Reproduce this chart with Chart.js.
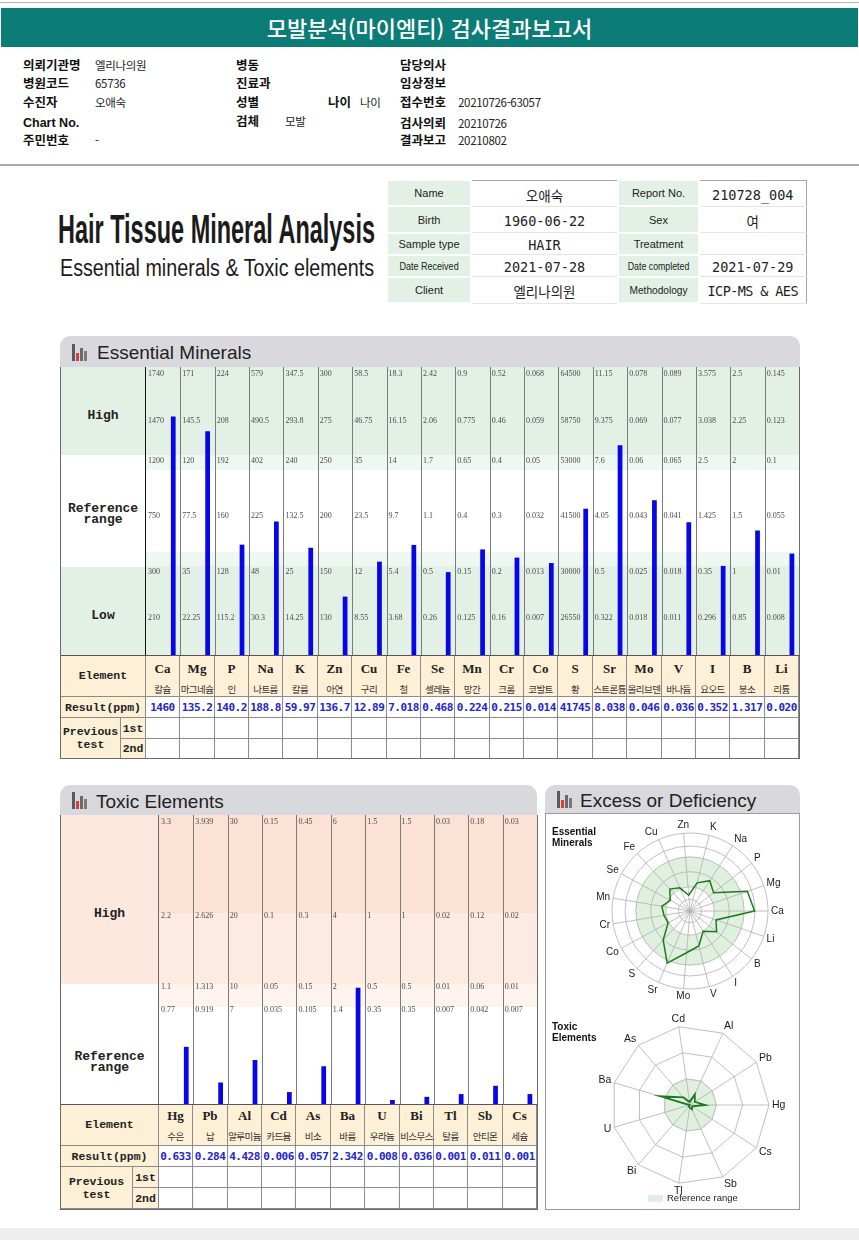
<!DOCTYPE html>
<html lang="ko"><head><meta charset="utf-8">
<script src="https://cdn.jsdelivr.net/npm/chart.js@4.4.1/dist/chart.umd.min.js"></script>
<style>
html,body{margin:0;padding:0;}
body{width:859px;height:1240px;position:relative;overflow:hidden;background:#fff;font-family:"Liberation Sans",Arial,sans-serif;color:#111;}
.a{position:absolute;}
.lab{position:absolute;font-family:"Noto Sans CJK KR",sans-serif;font-weight:700;font-size:12.5px;line-height:18px;white-space:nowrap;color:#111;}
.val{position:absolute;font-family:"Noto Sans CJK KR",sans-serif;font-size:11.5px;line-height:18px;white-space:nowrap;letter-spacing:-0.3px;color:#222;}
.ph{position:absolute;background:#d9d9dd;border-radius:10px 10px 0 0;}
.pt{position:absolute;font-size:19px;line-height:22px;color:#222;white-space:nowrap;}
.cell{position:absolute;box-sizing:border-box;display:flex;align-items:center;justify-content:center;text-align:center;border-right:1px solid #8c8c8c;border-bottom:1px solid #8c8c8c;white-space:nowrap;}
.beige{background:#fdf0d6;}
.mono{font-family:"Liberation Mono",monospace;font-weight:700;font-size:11.5px;color:#222;line-height:13px;}
.sym{font-family:"Liberation Serif",serif;font-weight:700;font-size:13px;color:#222;}
.knm{font-family:"Noto Sans CJK KR",sans-serif;font-size:9.5px;color:#333;letter-spacing:-0.6px;}
.res{font-family:"DejaVu Sans Mono",monospace;font-weight:700;font-size:11px;color:#2424d0;letter-spacing:-0.5px;}
.big{position:absolute;font-family:"Liberation Mono",monospace;font-weight:700;font-size:13px;line-height:11px;color:#222;text-align:center;}
#info{position:absolute;left:386px;top:179px;width:419px;height:125px;border-collapse:collapse;border:1px solid #a8a8a8;table-layout:fixed;}
#info td{padding:0;text-align:center;white-space:nowrap;overflow:visible;}
#info td.il{background:#e3f0e5;border:2px solid #fff;font-size:11px;color:#222;}
#info td.iv{background:#fff;border-bottom:1px solid #e6e6e6;font-family:"DejaVu Sans Mono","Noto Sans CJK KR",monospace;font-size:13.5px;color:#222;padding-top:3px;}
.sq{display:inline-block;transform-origin:center;}
.frame{position:absolute;box-sizing:border-box;pointer-events:none;z-index:5;}
</style></head><body>
<!-- top header -->
<div class="a" style="left:0;top:2px;width:859px;height:1px;background:#b5b5b5"></div>
<div class="a" style="left:1px;top:8px;width:857px;height:39px;background:#0b7d76"></div>
<div class="a" style="left:0;top:8px;width:859px;height:39px;line-height:39px;text-align:center;color:#fff;font-family:'Noto Sans CJK KR',sans-serif;font-size:22px;font-weight:500">모발분석(마이엠티) 검사결과보고서</div>
<div class="a" style="left:0;top:164px;width:859px;height:2px;background:#aaaaaa"></div>
<div class="a" style="left:0;top:1228px;width:859px;height:12px;background:#eeeeee"></div>

<div class="lab" style="left:23px;top:56px">의뢰기관명</div><div class="val" style="left:95px;top:56px">엘리나의원</div>
<div class="lab" style="left:23px;top:74px">병원코드</div><div class="val" style="left:95px;top:74px">65736</div>
<div class="lab" style="left:23px;top:93px">수진자</div><div class="val" style="left:95px;top:93px">오애숙</div>
<div class="lab" style="left:23px;top:114px;font-family:'Liberation Sans',sans-serif">Chart No.</div>
<div class="lab" style="left:23px;top:131px">주민번호</div><div class="val" style="left:95px;top:131px">-</div>
<div class="lab" style="left:236px;top:56px">병동</div>
<div class="lab" style="left:236px;top:74px">진료과</div>
<div class="lab" style="left:236px;top:93px">성별</div><div class="lab" style="left:328px;top:93px">나이</div><div class="val" style="left:360px;top:93px">나이</div>
<div class="lab" style="left:236px;top:112px">검체</div><div class="val" style="left:285px;top:112px">모발</div>
<div class="lab" style="left:400px;top:56px">담당의사</div>
<div class="lab" style="left:400px;top:74px">임상정보</div>
<div class="lab" style="left:400px;top:93px">접수번호</div><div class="val" style="left:458px;top:93px">20210726-63057</div>
<div class="lab" style="left:400px;top:114px">검사의뢰</div><div class="val" style="left:458px;top:114px">20210726</div>
<div class="lab" style="left:400px;top:131px">결과보고</div><div class="val" style="left:458px;top:131px">20210802</div>

<!-- logo -->
<div class="a fit" data-w="317" style="left:58px;top:206px;font-weight:700;font-size:40px;line-height:46px;white-space:nowrap;color:#1b1b1b;transform-origin:left top">Hair Tissue Mineral Analysis</div>
<div class="a fit" data-w="314" style="left:60px;top:255px;font-size:23px;line-height:27px;white-space:nowrap;color:#1b1b1b;transform-origin:left top">Essential minerals &amp; Toxic elements</div>

<table id="info">
<colgroup><col style="width:84px"><col style="width:147px"><col style="width:81px"><col style="width:107px"></colgroup>
<tr><td class="il">Name</td><td class="iv">오애숙</td><td class="il">Report No.</td><td class="iv">210728_004</td></tr>
<tr><td class="il">Birth</td><td class="iv">1960-06-22</td><td class="il">Sex</td><td class="iv">여</td></tr>
<tr><td class="il">Sample type</td><td class="iv">HAIR</td><td class="il">Treatment</td><td class="iv"></td></tr>
<tr><td class="il"><span class="sq" style="transform:scaleX(0.82)">Date Received</span></td><td class="iv">2021-07-28</td><td class="il"><span class="sq" style="transform:scaleX(0.8)">Date completed</span></td><td class="iv">2021-07-29</td></tr>
<tr><td class="il">Client</td><td class="iv">엘리나의원</td><td class="il"><span class="sq" style="transform:scaleX(0.92)">Methodology</span></td><td class="iv" style="letter-spacing:-0.6px">ICP-MS &amp; AES</td></tr>
</table>

<!-- Essential panel -->
<div class="ph" style="left:60px;top:336px;width:740px;height:31px"></div>
<div id="icon1" class="a" style="left:72px;top:343px;width:18px;height:18px"></div>
<div class="pt" style="left:97px;top:342px">Essential Minerals</div>
<div class="a" style="left:60px;top:367px;width:86px;height:88px;background:#e2f0e6"></div>
<div class="a" style="left:60px;top:567px;width:86px;height:88px;background:#e2f0e6"></div>
<div class="big" style="left:60px;top:410px;width:86px">High</div>
<div class="big" style="left:60px;top:503px;width:86px">Reference<br>range</div>
<div class="big" style="left:60px;top:610px;width:86px">Low</div>
<div class="a" style="left:146px;top:367px;width:653px;height:288px"><canvas id="essChart"></canvas></div>
<div class="a" style="left:145px;top:367px;width:1px;height:288px;background:#111;z-index:4"></div>
<div id="essTable"></div>
<div class="frame" style="left:60px;top:367px;width:740px;height:392px;border:1px solid #6a6a6a;border-top:none"></div>

<!-- Toxic panel -->
<div class="ph" style="left:60px;top:785px;width:477px;height:30px"></div>
<div id="icon2" class="a" style="left:72px;top:791px;width:18px;height:18px"></div>
<div class="pt" style="left:96px;top:791px">Toxic Elements</div>
<div class="a" style="left:60px;top:815px;width:99px;height:169px;background:#fde8dd"></div>
<div class="big" style="left:60px;top:908px;width:99px">High</div>
<div class="big" style="left:60px;top:1051px;width:99px">Reference<br>range</div>
<div class="a" style="left:159px;top:815px;width:378px;height:289px"><canvas id="toxChart"></canvas></div>
<div class="a" style="left:158px;top:815px;width:1px;height:289px;background:#666;z-index:4"></div>
<div id="toxTable"></div>
<div class="frame" style="left:60px;top:815px;width:478px;height:395px;border:1px solid #6a6a6a;border-top:none"></div>

<!-- Excess panel -->
<div class="ph" style="left:545px;top:785px;width:255px;height:28px"></div>
<div id="icon3" class="a" style="left:557px;top:790px;width:18px;height:18px"></div>
<div class="pt" style="left:580px;top:790px">Excess or Deficiency</div>
<div class="frame" style="left:545px;top:813px;width:255px;height:397px;border:1px solid #9a9a9a"></div>
<div class="a" style="left:555px;top:815px;width:244px;height:192px"><canvas id="essRadar"></canvas></div>
<div class="a" style="left:555px;top:1010px;width:244px;height:198px"><canvas id="toxRadar"></canvas></div>
<div class="a" style="left:552px;top:826px;font-weight:700;font-size:10px;line-height:11px;color:#111;z-index:6">Essential<br>Minerals</div>
<div class="a" style="left:552px;top:1021px;font-weight:700;font-size:10px;line-height:11px;color:#111;z-index:6">Toxic<br>Elements</div>
<div class="a" style="left:648px;top:1195px;width:15px;height:7px;background:#dff0df;z-index:6"></div>
<div class="a" style="left:667px;top:1192px;font-size:9.5px;line-height:12px;color:#222;z-index:6">Reference range</div>

<script>
// ---------------- DATA ----------------
const essSymbols = ['Ca','Mg','P','Na','K','Zn','Cu','Fe','Se','Mn','Cr','Co','S','Sr','Mo','V','I','B','Li'];
const essKorean = ['칼슘','마그네슘','인','나트륨','칼륨','아연','구리','철','셀레늄','망간','크롬','코발트','황','스트론튬','몰리브덴','바나듐','요오드','붕소','리튬'];
const essResultText = ['1460','135.2','140.2','188.8','59.97','136.7','12.89','7.018','0.468','0.224','0.215','0.014','41745','8.038','0.046','0.036','0.352','1.317','0.020'];
const essTickLow2  = [210,22.25,115.2,30.3,14.25,130,8.55,3.68,0.26,0.125,0.16,0.007,26550,0.322,0.018,0.011,0.296,0.85,0.008];
const essTickLow1  = [300,35,128,48,25,150,12,5.4,0.5,0.15,0.2,0.013,30000,0.5,0.025,0.018,0.35,1,0.01];
const essTickMid   = [750,77.5,160,225,132.5,200,23.5,9.7,1.1,0.4,0.3,0.032,41500,4.05,0.043,0.041,1.425,1.5,0.055];
const essTickHigh1 = [1200,120,192,402,240,250,35,14,1.7,0.65,0.4,0.05,53000,7.6,0.06,0.065,2.5,2,0.1];
const essTickHigh2 = [1470,145.5,208,490.5,293.8,275,46.75,16.15,2.06,0.775,0.46,0.059,58750,9.375,0.069,0.077,3.038,2.25,0.123];
const essTickHigh3 = [1740,171,224,579,347.5,300,58.5,18.3,2.42,0.9,0.52,0.068,64500,11.15,0.078,0.089,3.575,2.5,0.145];

const toxSymbols = ['Hg','Pb','Al','Cd','As','Ba','U','Bi','Tl','Sb','Cs'];
const toxKorean = ['수은','납','알루미늄','카드뮴','비소','바륨','우라늄','비스무스','탈륨','안티몬','세슘'];
const toxResultText = ['0.633','0.284','4.428','0.006','0.057','2.342','0.008','0.036','0.001','0.011','0.001'];
const toxTickRef = [0.77,0.919,7,0.035,0.105,1.4,0.35,0.35,0.007,0.042,0.007];
const toxTick1   = [1.1,1.313,10,0.05,0.15,2,0.5,0.5,0.01,0.06,0.01];
const toxTick2   = [2.2,2.626,20,0.1,0.3,4,1,1,0.02,0.12,0.02];
const toxTick3   = [3.3,3.939,30,0.15,0.45,6,1.5,1.5,0.03,0.18,0.03];

// ---------------- scale definitions (layout) ----------------
const essLevelPos = [0,43,89,145,200,240,288];      // y-scale position of each reference level
const essTickRows = [essTickLow2, essTickLow1, essTickMid, essTickHigh1, essTickHigh2, essTickHigh3];
const essResults = essResultText.map(Number);
const toxResults = toxResultText.map(Number);

function levelPosition(v, ticks, pos){
  for (let k = 1; k < ticks.length; k++) {
    if (v <= ticks[k]) return pos[k-1] + (v - ticks[k-1]) / (ticks[k] - ticks[k-1]) * (pos[k] - pos[k-1]);
  }
  return pos[pos.length-1];
}
const essLevelVals = essResults.map((v,i) => levelPosition(v, [0].concat(essTickRows.map(r => r[i])), essLevelPos));
const toxRatio = toxResults.map((v,i) => v / toxTick3[i]);

// ---------------- fit logo text ----------------
document.querySelectorAll('.fit').forEach(el => {
  const w = el.getBoundingClientRect().width;
  el.style.transform = 'scaleX(' + (+el.dataset.w / w) + ')';
});

// icons
['icon1','icon2','icon3'].forEach(id => {
  const box = document.getElementById(id);
  [[0,17,'#5a5a5a'],[4,8,'#e03a3a'],[8,13,'#6a6a6a'],[12,10,'#7a7a7a']].forEach(([x,h,c]) => {
    const d = document.createElement('div');
    d.style.cssText = `position:absolute;left:${x}px;bottom:0;width:3px;height:${h}px;background:${c}`;
    box.appendChild(d);
  });
});

// ---------------- tables ----------------
function cell(parent, x, y, w, h, html, cls, style){
  const d = document.createElement('div');
  d.className = 'cell ' + (cls || '');
  d.style.cssText = `left:${x}px;top:${y}px;width:${w}px;height:${h}px;` + (style || '');
  d.innerHTML = html;
  parent.appendChild(d);
}
function buildTable(id, x0, xs, x1, x2, rows, syms, kors, res){
  const p = document.getElementById(id);
  const n = syms.length, cw = (x2 - x1) / n;
  cell(p, x0, rows[0], x1-x0, rows[2]-rows[0], 'Element', 'beige mono', 'border-left:1px solid #6a6a6a;');
  cell(p, x0, rows[2], x1-x0, rows[3]-rows[2], 'Result(ppm)', 'beige mono', 'border-left:1px solid #6a6a6a;');
  cell(p, x0, rows[3], xs-x0, rows[5]-rows[3], 'Previous<br>test', 'beige mono', 'border-left:1px solid #6a6a6a;');
  cell(p, xs, rows[3], x1-xs, rows[4]-rows[3], '1st', 'beige mono');
  cell(p, xs, rows[4], x1-xs, rows[5]-rows[4], '2nd', 'beige mono');
  for (let i = 0; i < n; i++) {
    const x = Math.round(x1 + i*cw), w = Math.round(x1 + (i+1)*cw) - x;
    cell(p, x, rows[0], w, rows[1]-rows[0], syms[i], 'beige sym', 'border-bottom:none;');
    cell(p, x, rows[1], w, rows[2]-rows[1], kors[i], 'beige knm');
    cell(p, x, rows[2], w, rows[3]-rows[2], res[i], 'res');
    cell(p, x, rows[3], w, rows[4]-rows[3], '', '');
    cell(p, x, rows[4], w, rows[5]-rows[4], '', '');
  }
  const line = document.createElement('div');
  line.style.cssText = `position:absolute;left:${x0}px;top:${rows[0]}px;width:${x2-x0}px;height:1px;background:#555;z-index:3`;
  p.appendChild(line);
}
buildTable('essTable', 60, 121, 146, 799, [655,682,697,718,739,759], essSymbols, essKorean, essResultText);
buildTable('toxTable', 60, 133, 159, 537, [1104,1127,1146,1167,1188,1209], toxSymbols, toxKorean, toxResultText);

// ---------------- plugins ----------------
const columnDeco = {
  id: 'columnDeco',
  beforeDatasetsDraw(chart, args, o) {
    const {ctx, chartArea: a, scales: {x, y}} = chart;
    const n = chart.data.labels.length, cw = (a.right - a.left) / n;
    ctx.save();
    o.bands.forEach(([lo, hi, col]) => {
      const y1 = o.px ? a.bottom - hi : y.getPixelForValue(hi);
      const y2 = o.px ? a.bottom - lo : y.getPixelForValue(lo);
      ctx.fillStyle = col; ctx.fillRect(a.left, y1, a.right - a.left, y2 - y1);
    });
    ctx.strokeStyle = '#7a7a7a'; ctx.lineWidth = 1;
    for (let i = 1; i < n; i++) {
      const px = Math.round((x.getPixelForValue(i-1) + x.getPixelForValue(i)) / 2) + 0.5;
      ctx.beginPath(); ctx.moveTo(px, a.top); ctx.lineTo(px, a.bottom); ctx.stroke();
    }
    ctx.font = '8px "Liberation Serif", serif'; ctx.fillStyle = '#4a4a4a'; ctx.textBaseline = 'top'; ctx.textAlign = 'left';
    o.rows.forEach((row, k) => {
      const ty = o.px ? a.bottom - o.levels[k] : y.getPixelForValue(o.levels[k]) + 2;
      row.forEach((v, i) => {
        const left = x.getPixelForValue(i) - cw/2 + 2;
        ctx.fillText(String(v), left, Math.max(a.top + 3, ty));
      });
    });
    ctx.restore();
  }
};

const nullData = arr => arr.map(() => null);
function barChart(id, labels, values, ymax, deco, minLen){
  return new Chart(document.getElementById(id), {
    type: 'bar',
    data: { labels, datasets: [
      { data: nullData(labels) }, { data: nullData(labels) },
      { data: values, backgroundColor: '#0606e8', borderWidth: 0, minBarLength: minLen }
    ]},
    options: {
      responsive: true, maintainAspectRatio: false, animation: false,
      layout: { padding: 0 },
      datasets: { bar: { categoryPercentage: 0.88, barPercentage: 0.47 } },
      plugins: { legend: { display: false }, tooltip: { enabled: false }, columnDeco: deco },
      scales: {
        x: { display: false, offset: true },
        y: { display: false, min: 0, max: ymax }
      }
    },
    plugins: [columnDeco]
  });
}

barChart('essChart', essSymbols, essLevelVals, 288, {
  px: false,
  bands: [[200,288,'#e2f0e6'],[185,200,'#eef7f0'],[89,103,'#eef7f0'],[0,89,'#e2f0e6']],
  rows: essTickRows, levels: essLevelPos.slice(1)
}, 0);

barChart('toxChart', toxSymbols, toxRatio, 0.97, {
  px: true,
  bands: [[191,289,'#fce2d4'],[120,191,'#fdebe2'],[97,120,'#fef3ed']],
  rows: [toxTickRef, toxTick1, toxTick2, toxTick3], levels: [98,121,192,288]
}, 4);

// ---------------- radar charts ----------------
const radarDeco = {
  id: 'radarDeco',
  beforeDraw(chart, args, o) {
    const s = chart.scales.r, ctx = chart.ctx;
    ctx.save();
    ctx.fillStyle = '#dff0df';
    ctx.beginPath();
    ctx.arc(s.xCenter, s.yCenter, s.getDistanceFromCenterForValue(o.bandHi), 0, Math.PI*2);
    if (o.bandLo > 0) ctx.arc(s.xCenter, s.yCenter, s.getDistanceFromCenterForValue(o.bandLo), 0, Math.PI*2, true);
    ctx.fill('evenodd');
    ctx.restore();
  },
  afterDraw(chart, args, o) {
    const s = chart.scales.r, ctx = chart.ctx;
    ctx.save();
    ctx.font = o.font; ctx.fillStyle = '#1a1a1a'; ctx.textBaseline = 'middle';
    chart.data.labels.forEach((lab, i) => {
      const ang = s.getIndexAngle(i) - Math.PI/2;
      const p = s.getPointPosition(i, s.drawingArea + o.pad);
      const c = Math.cos(ang), sn = Math.sin(ang);
      ctx.textAlign = Math.abs(c) < 0.2 ? 'center' : (c > 0 ? 'left' : 'right');
      ctx.fillText(lab, p.x, p.y + sn * 5);
    });
    ctx.restore();
  }
};
function clockwiseFromFirst(arr){ return [arr[0]].concat(arr.slice(1).reverse()); }

function radarChart(id, labels, values, max, ticks, circular, padding, deco, bw){
  return new Chart(document.getElementById(id), {
    type: 'radar',
    data: { labels: clockwiseFromFirst(labels), datasets: [{
      data: clockwiseFromFirst(values), borderColor: '#1d7a1d', borderWidth: bw,
      pointRadius: 0, fill: false, tension: 0
    }]},
    options: {
      responsive: true, maintainAspectRatio: false, animation: false,
      layout: { padding },
      plugins: { legend: { display: false }, tooltip: { enabled: false }, radarDeco: deco },
      scales: { r: {
        min: 0, max, startAngle: 90,
        afterBuildTicks: sc => { sc.ticks = ticks.map(v => ({ value: v })); },
        ticks: { display: false },
        pointLabels: { display: false },
        grid: { circular, color: '#b0b0b0', lineWidth: 0.8 },
        angleLines: { color: '#b0b0b0', lineWidth: 0.8 }
      }}
    },
    plugins: [radarDeco]
  });
}
// canvas left = 555, centre x = 690 -> 135 inside canvas
radarChart('essRadar', essSymbols, essLevelVals, 288, essLevelPos, true,
  { left: 57, right: 31, top: 18, bottom: 18 },
  { bandLo: essLevelPos[2], bandHi: essLevelPos[4], font: '10px "Liberation Sans", Arial', pad: 3 }, 1.5);
radarChart('toxRadar', toxSymbols, toxRatio, 1, [0, 1/3, 2/3, 1], false,
  { left: 56, right: 30, top: 16, bottom: 24 },
  { bandLo: 0, bandHi: 1/3, font: '10.5px "Liberation Sans", Arial', pad: 3 }, 1.8);
</script>
</body></html>
